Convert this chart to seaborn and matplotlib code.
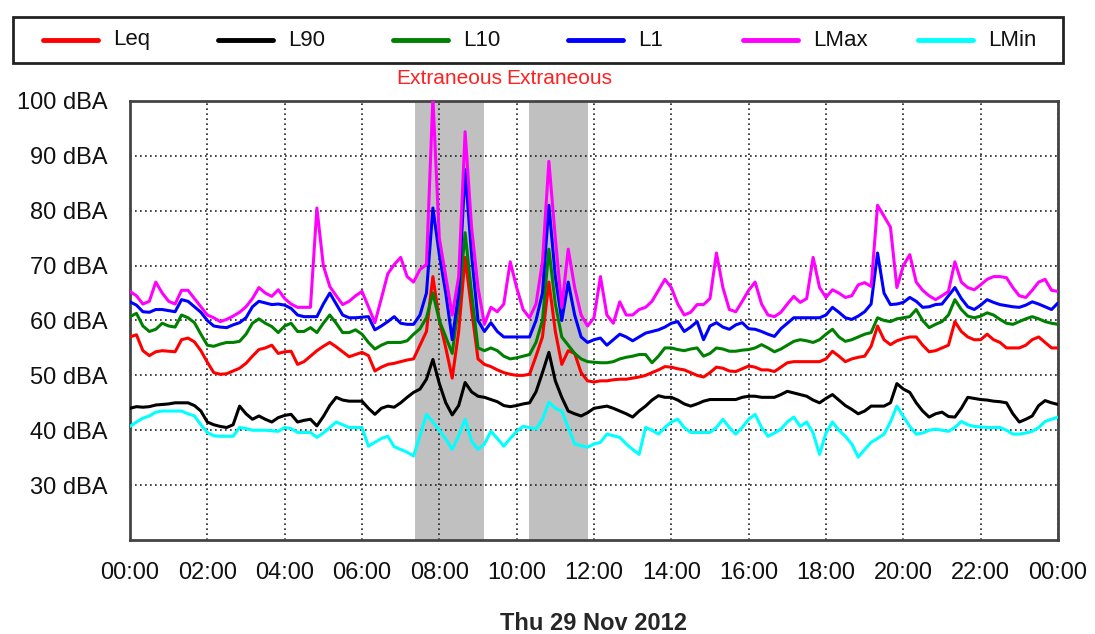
import numpy as np
import pandas as pd
import matplotlib
matplotlib.use("Agg")
import matplotlib.pyplot as plt
from matplotlib.lines import Line2D
from matplotlib.patches import Rectangle
import seaborn as sns

# 10 minute samples, Thu 29 Nov 2012 00:00 -> Fri 00:00
minutes = list(range(0, 24 * 60 + 1, 10))

leq = [57.0, 57.4, 54.5, 53.6, 54.3, 54.5, 54.4, 54.3, 56.5, 56.8, 56.1, 54.5,
       52.4, 50.5, 50.2, 50.3, 50.8, 51.3, 52.2, 53.5, 54.7, 55.0, 55.5, 54.0,
       54.3, 54.4, 52.0, 52.5, 53.5, 54.5, 55.3, 56.0, 55.2, 54.3, 53.4, 53.8,
       54.2, 53.6, 50.8, 51.5, 52.0, 52.2, 52.5, 52.8, 53.0, 55.5, 58.0, 68.0,
       60.0, 55.0, 49.5, 58.0, 71.5, 62.0, 53.0, 52.0, 51.6, 51.0, 50.5, 50.2,
       50.0, 50.0, 50.2, 53.5, 57.0, 67.0, 58.0, 52.0, 54.5, 54.0, 50.5, 49.0,
       48.8, 49.0, 49.0, 49.2, 49.3, 49.3, 49.5, 49.7, 50.0, 50.5, 51.0, 51.6,
       51.5, 51.2, 51.0, 50.5, 50.0, 49.7, 50.5, 51.5, 51.3, 50.8, 50.7, 51.2,
       51.7, 51.5, 51.0, 51.0, 50.7, 51.5, 52.3, 52.5, 52.5, 52.5, 52.5, 52.5,
       53.0, 54.4, 53.5, 52.5, 53.0, 53.3, 53.5, 55.3, 59.0, 56.5, 55.6, 56.3,
       56.7, 57.0, 57.0, 55.5, 54.3, 54.5, 55.0, 55.5, 59.8, 58.0, 57.0, 56.5,
       56.5, 57.5, 56.5, 56.0, 55.0, 55.0, 55.0, 55.5, 56.5, 57.0, 56.0, 55.0,
       55.0]

l90 = [44.0, 44.3, 44.2, 44.3, 44.6, 44.7, 44.8, 45.0, 45.0, 45.0, 44.5, 43.5,
       41.5, 41.0, 40.7, 40.5, 41.0, 44.4, 43.0, 42.0, 42.6, 42.0, 41.5, 42.3,
       42.7, 42.9, 41.5, 41.8, 42.0, 40.8, 42.5, 44.5, 46.0, 45.5, 45.3, 45.3,
       45.3, 44.0, 42.9, 44.0, 44.4, 44.2, 45.0, 46.0, 46.9, 47.5, 49.3, 52.9,
       48.5, 45.0, 42.8, 44.5, 48.7, 47.0, 46.2, 46.0, 45.6, 45.2, 44.5, 44.3,
       44.5, 44.8, 45.0, 47.0, 50.5, 54.2, 49.0, 46.0, 43.5, 43.0, 42.6, 43.2,
       44.0, 44.2, 44.4, 44.0, 43.5, 43.0, 42.4, 43.5, 44.4, 45.5, 46.3, 46.0,
       46.0, 45.5, 44.8, 44.4, 44.8, 45.3, 45.6, 45.6, 45.6, 45.6, 45.6, 46.0,
       46.2, 46.2, 46.0, 46.0, 46.0, 46.5, 47.1, 46.8, 46.5, 46.2, 45.5, 45.0,
       45.8, 46.5, 45.5, 44.5, 43.8, 43.0, 43.5, 44.4, 44.4, 44.4, 45.0, 48.5,
       47.5, 46.9, 45.0, 43.5, 42.4, 43.0, 43.3, 42.5, 42.4, 44.0, 46.0, 45.8,
       45.6, 45.5, 45.3, 45.2, 45.0, 43.0, 41.5, 42.0, 42.6, 44.5, 45.4, 45.0,
       44.7]

l10 = [60.7, 61.3, 59.0, 58.0, 58.4, 59.5, 59.0, 58.8, 61.0, 60.5, 59.6, 57.5,
       55.5, 55.3, 55.7, 56.0, 56.0, 56.2, 57.5, 59.5, 60.3, 59.5, 58.9, 57.8,
       59.0, 59.5, 58.0, 58.0, 58.7, 57.8, 59.5, 61.0, 59.5, 57.8, 57.8, 58.3,
       57.5, 56.0, 54.8, 55.5, 56.0, 56.0, 56.0, 56.3, 57.5, 58.5, 60.5, 65.0,
       60.0, 57.0, 54.0, 63.0, 76.0, 65.0, 55.0, 54.5, 55.0, 54.5, 53.5, 53.0,
       53.2, 53.5, 53.8, 56.0, 60.0, 73.0, 63.0, 57.0, 55.5, 54.0, 53.0, 52.5,
       52.4, 52.3, 52.3, 52.5, 53.0, 53.3, 53.5, 53.8, 53.8, 52.3, 53.5, 55.0,
       55.0, 54.7, 54.5, 54.8, 55.0, 53.5, 54.0, 55.0, 54.8, 54.4, 54.4, 54.6,
       54.7, 55.0, 55.6, 55.0, 54.3, 54.8, 55.5, 56.2, 56.5, 56.3, 56.0, 56.5,
       57.5, 58.4, 57.0, 56.2, 56.5, 57.0, 57.5, 57.8, 60.5, 60.0, 59.8, 60.3,
       60.5, 60.7, 62.0, 60.0, 58.7, 59.3, 59.8, 61.0, 63.8, 62.0, 60.8, 60.5,
       60.8, 61.4, 61.0, 60.2, 59.5, 59.3, 59.8, 60.3, 60.7, 60.3, 59.8, 59.5,
       59.3]

l1 = [63.4, 62.8, 61.6, 61.5, 62.0, 62.0, 61.8, 61.6, 63.8, 63.5, 62.5, 61.5,
      60.0, 59.0, 58.8, 58.7, 59.2, 59.6, 60.5, 62.5, 63.5, 63.2, 62.9, 63.0,
      62.8, 62.2, 61.0, 60.7, 60.7, 60.7, 63.0, 65.0, 63.0, 61.0, 60.5, 60.5,
      60.6, 60.7, 58.3, 59.0, 59.8, 60.7, 59.5, 59.3, 59.3, 61.0, 65.0, 80.5,
      72.0, 65.0, 56.5, 65.0, 87.5, 72.0, 60.0, 58.0, 59.6, 58.0, 57.0, 57.0,
      57.0, 57.0, 57.0, 60.0, 65.0, 81.0, 68.0, 60.0, 67.0, 61.0, 57.0, 56.0,
      56.5, 56.8, 55.5, 56.5, 57.5, 57.0, 56.3, 57.0, 57.7, 58.0, 58.3, 58.8,
      59.5, 59.8, 58.0, 58.8, 59.8, 56.5, 59.0, 59.6, 58.8, 58.4, 59.2, 59.6,
      58.5, 58.4, 58.0, 57.5, 57.1, 58.5, 59.5, 60.5, 60.5, 60.5, 60.5, 60.5,
      61.0, 62.4, 61.5, 60.5, 60.2, 60.8, 61.6, 63.0, 72.3, 65.0, 62.9, 63.0,
      63.3, 64.2, 63.5, 62.4, 62.5, 62.9, 63.0, 64.5, 66.0, 64.0, 62.5, 62.0,
      62.8, 63.8, 63.3, 62.9, 62.7, 62.5, 62.4, 62.8, 63.4, 63.0, 62.5, 62.0,
      63.2]

lmax = [65.3, 64.5, 63.0, 63.5, 67.0, 65.0, 63.5, 63.0, 65.5, 65.5, 64.0, 62.5,
        61.0, 60.5, 59.8, 60.2, 60.8, 61.5, 62.5, 64.0, 66.0, 65.0, 64.4, 65.6,
        64.0, 63.0, 62.4, 62.4, 62.4, 80.5, 70.0, 66.2, 64.5, 62.9, 63.5, 64.5,
        65.3, 62.5, 59.6, 64.0, 68.5, 70.2, 71.5, 68.0, 67.0, 69.3, 70.2, 100.5,
        75.0, 68.0, 61.0, 68.0, 94.4, 77.0, 66.0, 59.3, 62.4, 61.6, 63.0, 70.7,
        66.0, 62.0, 60.5, 63.0, 70.7, 89.0, 75.0, 62.4, 73.0, 66.0, 61.0, 59.0,
        60.5, 68.0, 61.0, 59.5, 63.4, 61.0, 61.0, 62.0, 62.4, 63.5, 65.5, 67.5,
        66.0, 63.0, 61.0, 61.5, 62.9, 62.9, 64.0, 72.3, 66.0, 62.0, 61.6, 63.5,
        65.5, 67.0, 63.0, 61.0, 60.7, 61.5, 63.0, 64.4, 63.3, 64.0, 71.5, 66.0,
        64.2, 65.6, 65.0, 64.2, 64.5, 66.5, 66.9, 66.2, 81.0, 79.0, 77.0, 66.0,
        70.0, 72.0, 67.0, 65.5, 64.5, 63.8, 64.5, 65.3, 70.7, 67.0, 66.0, 65.6,
        66.5, 67.5, 68.0, 68.0, 67.8, 66.0, 64.5, 64.2, 65.5, 67.0, 67.5, 65.5,
        65.3]

lmin = [40.7, 41.5, 42.2, 42.6, 43.3, 43.5, 43.5, 43.5, 43.5, 43.0, 42.6, 41.0,
        39.6, 39.0, 38.9, 38.9, 38.9, 40.5, 40.3, 40.0, 40.0, 40.0, 39.9, 39.8,
        40.5, 40.3, 39.6, 39.6, 39.6, 38.7, 39.5, 40.5, 41.5, 41.0, 40.5, 40.5,
        40.5, 37.1, 37.8, 38.5, 38.9, 37.0, 36.5, 36.0, 35.3, 39.0, 42.9, 41.5,
        40.0, 38.4, 36.5, 39.0, 42.0, 38.0, 36.5, 37.5, 39.8, 38.5, 37.1, 38.5,
        39.8, 40.7, 40.5, 40.2, 42.0, 45.1, 44.0, 43.5, 40.5, 37.5, 37.2, 36.9,
        37.5, 37.8, 39.3, 39.0, 38.7, 37.5, 36.5, 35.6, 40.5, 40.0, 39.3, 40.5,
        41.5, 42.0, 40.5, 39.6, 39.6, 39.6, 39.6, 40.5, 42.0, 40.5, 39.3, 40.5,
        42.0, 42.9, 40.5, 38.9, 39.5, 40.2, 41.5, 42.4, 40.7, 41.5, 39.5, 35.6,
        39.5, 41.5, 40.0, 38.9, 37.5, 35.1, 36.5, 37.8, 38.5, 39.3, 41.5, 44.4,
        42.5, 40.7, 39.3, 39.5, 40.0, 40.2, 40.0, 39.8, 40.5, 41.6, 41.0, 40.7,
        40.6, 40.5, 40.5, 40.5, 40.0, 39.3, 39.3, 39.5, 39.8, 40.5, 41.6, 42.0,
        42.4]

series_names = ["Leq", "L90", "L10", "L1", "LMax", "LMin"]
series_colors = ["#ff0000", "#000000", "#008000", "#0000ff", "#ff00ff", "#00ffff"]

# extraneous periods (hours)
extra_start = [7.37, 10.33]
extra_end = [9.15, 11.85]
extra_label = ["Extraneous", "Extraneous"]

xtick_hours = list(range(0, 25, 2))
xtick_labels = ["00:00", "02:00", "04:00", "06:00", "08:00", "10:00", "12:00",
                "14:00", "16:00", "18:00", "20:00", "22:00", "00:00"]
ytick_vals = [30, 40, 50, 60, 70, 80, 90, 100]
ytick_labels = [f"{v} dBA" for v in ytick_vals]

sns.set_style("white")
plt.rcParams["font.family"] = ["Liberation Sans", "DejaVu Sans"]

frames = []
for name, vals in zip(series_names, [leq, l90, l10, l1, lmax, lmin]):
    frames.append(pd.DataFrame({"hour": np.array(minutes) / 60.0,
                                "dBA": vals, "series": name}))
df = pd.concat(frames, ignore_index=True)

W, H = 1095, 634
fig = plt.figure(figsize=(W / 100, H / 100), dpi=100)
ax = fig.add_axes([130 / W, 1 - 540 / H, 928 / W, 439 / H])

for s, e, lab in zip(extra_start, extra_end, extra_label):
    ax.axvspan(s, e, color="#c0c0c0", lw=0, zorder=0)
    ax.text((s + e) / 2, 1.052, lab, color="#ff2020", fontsize=15,
            ha="center", va="center",
            transform=ax.get_xaxis_transform())

sns.lineplot(data=df, x="hour", y="dBA", hue="series",
             hue_order=series_names, palette=series_colors,
             lw=2.2, legend=False, ax=ax, zorder=3)

ax.set_xlim(0, 24)
ax.set_ylim(20, 100)
ax.set_xticks(xtick_hours)
ax.set_xticklabels(xtick_labels, fontsize=17, color="#111111")
ax.set_yticks(ytick_vals)
ax.set_yticklabels(ytick_labels, fontsize=17, color="#111111")
ax.tick_params(length=0, pad=16)
ax.grid(True, color="#222222", linestyle=(0, (1, 2)), lw=1.2, zorder=1)
ax.set_xlabel("Thu 29 Nov 2012", fontsize=17, fontweight="bold", labelpad=20)
ax.set_ylabel("")
for sp in ax.spines.values():
    sp.set_color("#444444")
    sp.set_linewidth(2)

# legend box drawn by hand: six evenly spaced entries
fig.add_artist(Rectangle((13 / W, 1 - 63 / H), 1050 / W, 46 / H,
                         transform=fig.transFigure, fill=False,
                         edgecolor="#222222", lw=2))
ly = 1 - 40 / H
for i, (name, col) in enumerate(zip(series_names, series_colors)):
    x0 = 43 + i * 175
    fig.add_artist(Line2D([x0 / W, (x0 + 55) / W], [ly, ly], color=col, lw=3.5,
                          transform=fig.transFigure))
    fig.text((x0 + 70) / W, ly, name, fontsize=16, ha="left", va="center",
             color="#111111")

fig.savefig("out.png", dpi=100)
